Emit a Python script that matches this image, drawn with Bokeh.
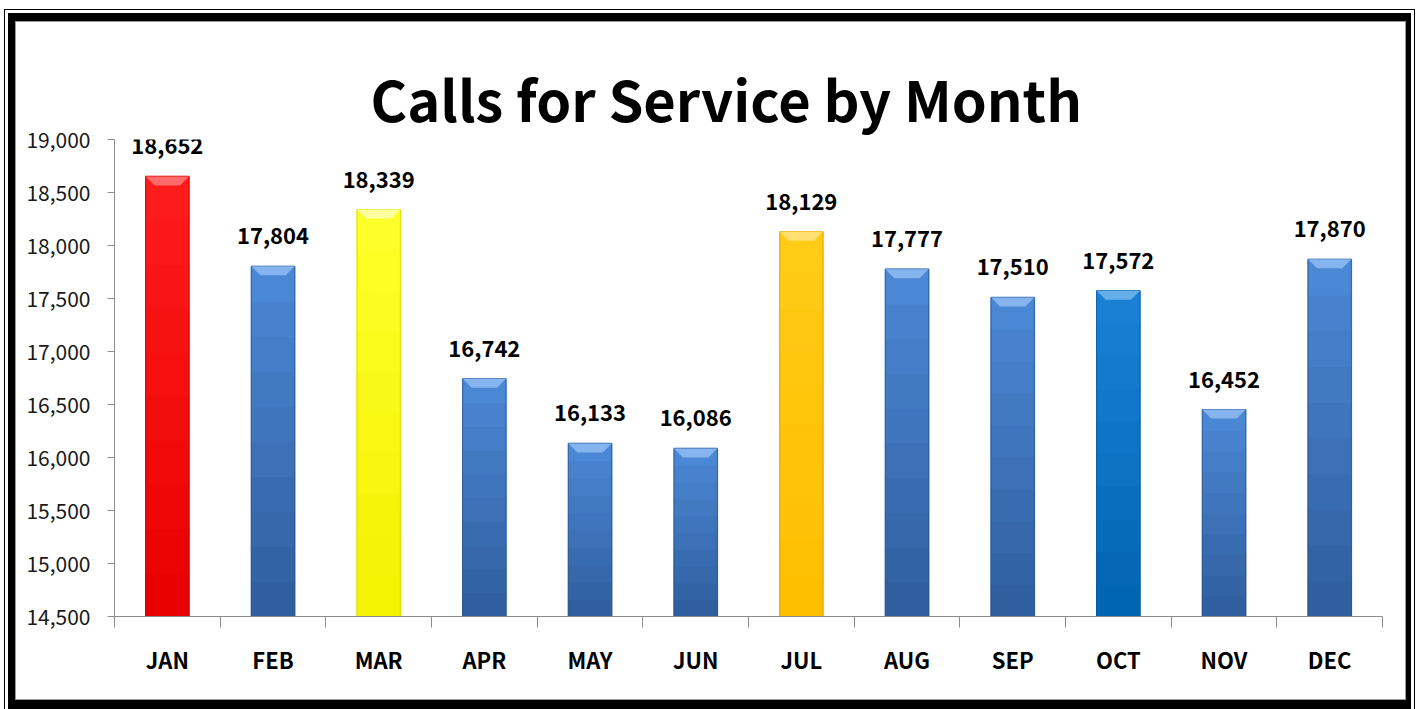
from bokeh.plotting import figure
from bokeh.models import (FixedTicker, NumeralTickFormatter, Range1d, LabelSet, Title,
                          ColumnDataSource, LinearAxis, Column)
from bokeh.embed import file_html
from bokeh.resources import INLINE
from bokeh.core.properties import value

# ---- data ----
months = ["JAN", "FEB", "MAR", "APR", "MAY", "JUN", "JUL", "AUG", "SEP", "OCT", "NOV", "DEC"]
calls = [18652, 17804, 18339, 16742, 16133, 16086, 18129, 17777, 17510, 17572, 16452, 17870]
y_ticks = [14500, 15000, 15500, 16000, 16500, 17000, 17500, 18000, 18500, 19000]
title_text = "Calls for Service by Month"

# ---- styles ----
FONT = "Noto Sans CJK JP"
palette = {
    "red":    dict(top="#FF1C1C", bottom="#E80000", bevel="#FF6A6A", edge="#C80000"),
    "blue":   dict(top="#4C89D7", bottom="#2E5D9C", bevel="#86B4EE", edge="#2A548C"),
    "yellow": dict(top="#FFFF2A", bottom="#F2F200", bevel="#FFFFA0", edge="#D0D000"),
    "gold":   dict(top="#FFCC16", bottom="#FFBE00", bevel="#FFE070", edge="#DDA300"),
    "oct":    dict(top="#1A82D6", bottom="#0064B0", bevel="#66AEEA", edge="#00579A"),
}
bar_style = {"JAN": "red", "MAR": "yellow", "JUL": "gold", "OCT": "oct"}

Y0, Y1 = y_ticks[0], y_ticks[-1]
W, H = 1389, 677
ML, MR, MT, MB = 98, 23, 117, 83
p = figure(width=W, height=H, output_backend="svg", toolbar_location=None,
           x_range=Range1d(0, len(months)), y_range=Range1d(Y0, Y1),
           min_border_left=ML, min_border_right=MR, min_border_top=MT, min_border_bottom=MB,
           title=None, x_axis_type=None, y_axis_type=None)
p.outline_line_color = None
p.xgrid.visible = False
p.ygrid.visible = False
p.background_fill_color = "white"
p.border_fill_color = "white"

frame_h = H - MT - MB
frame_w = W - ML - MR
units_per_px = (Y1 - Y0) / frame_h
cat_px = frame_w / len(months)

def hex_to_rgb(h):
    h = h.lstrip("#")
    return tuple(int(h[i:i + 2], 16) for i in (0, 2, 4))

def mix(c1, c2, t):
    a, b = hex_to_rgb(c1), hex_to_rgb(c2)
    return "#%02x%02x%02x" % tuple(int(round(a[i] + (b[i] - a[i]) * t)) for i in range(3))

bw = 0.41
NSEG = 10
xs_c = [i + 0.5 for i in range(len(months))]

seg_x, seg_b, seg_t, seg_c = [], [], [], []
edge_c = []
bev_xs, bev_ys, bev_c = [], [], []
bevel_h = 9 * units_per_px
bevel_dx = 9 / cat_px
for i, (m, v) in enumerate(zip(months, calls)):
    st = palette[bar_style.get(m, "blue")]
    edge_c.append(st["edge"])
    for k in range(NSEG):
        b = Y0 + (v - Y0) * k / NSEG
        t = Y0 + (v - Y0) * (k + 1) / NSEG
        seg_x.append(xs_c[i]); seg_b.append(b); seg_t.append(t)
        seg_c.append(mix(st["bottom"], st["top"], (k + 0.5) / NSEG))
    x = xs_c[i]
    bev_xs.append([x - bw / 2, x + bw / 2, x + bw / 2 - bevel_dx, x - bw / 2 + bevel_dx])
    bev_ys.append([v, v, v - bevel_h, v - bevel_h])
    bev_c.append(st["bevel"])

# soft shadow
p.vbar(x=[x + 0.012 for x in xs_c], width=bw, bottom=Y0, top=calls,
       fill_color="#000000", fill_alpha=0.12, line_color=None)
# gradient body
p.vbar(x=seg_x, width=bw, bottom=seg_b, top=seg_t, fill_color=seg_c, line_color=seg_c, line_width=1.2)
# edges
p.vbar(x=xs_c, width=bw, bottom=Y0, top=calls, fill_color=None, line_color=edge_c, line_width=1, line_alpha=0.7)
# top bevel
p.patches(xs=bev_xs, ys=bev_ys, fill_color=bev_c, line_color=None)

# data labels
src = ColumnDataSource(dict(x=xs_c, y=calls, t=[f"{v:,}" for v in calls]))
p.add_layout(LabelSet(x="x", y="y", text="t", source=src, y_offset=22,
                      text_align="center", text_baseline="alphabetic",
                      text_font=value(FONT), text_font_style="bold",
                      text_font_size="22px", text_color="black"))

# y axis
yax = LinearAxis(ticker=FixedTicker(ticks=y_ticks), formatter=NumeralTickFormatter(format="0,0"))
yax.axis_line_color = "#8C8C8C"
yax.major_tick_line_color = "#8C8C8C"
yax.major_tick_out = 7
yax.major_tick_in = 0
yax.minor_tick_out = 0
yax.minor_tick_in = 0
yax.major_label_standoff = 17
yax.major_label_text_font = FONT
yax.major_label_text_font_size = "21px"
yax.major_label_text_color = "#1a1a1a"
p.add_layout(yax, "left")

# x axis
xax = LinearAxis(ticker=FixedTicker(ticks=xs_c, minor_ticks=list(range(len(months) + 1))))
xax.major_label_overrides = {x: m for x, m in zip(xs_c, months)}
xax.axis_line_color = "#8C8C8C"
xax.major_tick_out = 0
xax.major_tick_in = 0
xax.minor_tick_line_color = "#8C8C8C"
xax.minor_tick_out = 11
xax.minor_tick_in = 0
xax.major_label_standoff = 15
xax.major_label_text_font = FONT
xax.major_label_text_font_style = "bold"
xax.major_label_text_font_size = "22px"
xax.major_label_text_color = "black"
p.add_layout(xax, "below")

# title
p.add_layout(Title(text=title_text, align="left", offset=256, standoff=4,
                   text_font=FONT, text_font_style="bold",
                   text_font_size="56px", text_color="black"), "above")

inner = Column(children=[p], styles={"border": "1px solid #9A9A9A"})
outer = Column(children=[inner], styles={
    "margin-left": "8px", "margin-top": "13px",
    "border-left": "7px solid black", "border-top": "8px solid black",
    "border-right": "5px solid black", "border-bottom": "9px solid black",
    "outline": "1.5px solid black", "outline-offset": "3px"})

open("out.html", "w").write(file_html(outer, INLINE))
